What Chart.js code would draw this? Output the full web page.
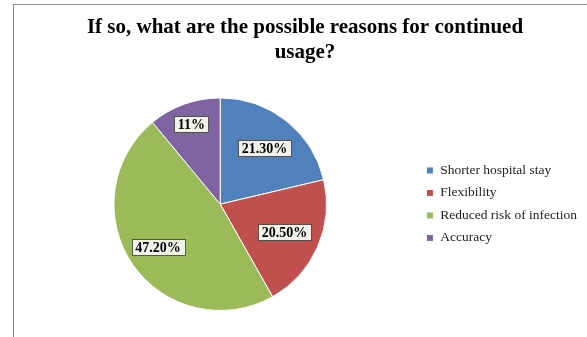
<!DOCTYPE html>
<html>
<head>
<meta charset="utf-8">
<script src="https://cdn.jsdelivr.net/npm/chart.js@4/dist/chart.umd.min.js"></script>
<style>
  html, body { margin: 0; padding: 0; background: #fff; overflow: hidden; }
  #frame { position: absolute; left: 13px; top: 4px; width: 700px; height: 400px;
           border-left: 1px solid #8a8a8a; border-top: 1px solid #8a8a8a; }
  #wrap { position: absolute; left: 0; top: 0; width: 587px; height: 337px; }
</style>
</head>
<body>
<div id="frame"></div>
<div id="wrap"><canvas id="c" width="587" height="337"></canvas></div>
<script>
const titleLines = ["If so, what are the possible reasons for continued", "usage?"];
const categories = ["Shorter hospital stay", "Flexibility", "Reduced risk of infection", "Accuracy"];
const values = [21.3, 20.5, 47.2, 11];
const valueLabels = ["21.30%", "20.50%", "47.20%", "11%"];
const colors = ["#4F81BD", "#C0504D", "#9BBB59", "#8064A2"];
const labelRadius = [0.67, 0.66, 0.71, 0.8];

const boxLabels = {
  id: 'boxLabels',
  afterDatasetsDraw(chart) {
    const ctx = chart.ctx;
    const meta = chart.getDatasetMeta(0);
    ctx.save();
    ctx.font = 'bold 14px "Liberation Serif", "Times New Roman", serif';
    ctx.textAlign = 'center';
    ctx.textBaseline = 'middle';
    meta.data.forEach((arc, i) => {
      const p = arc.getProps(['x', 'y', 'startAngle', 'endAngle', 'outerRadius'], true);
      const mid = (p.startAngle + p.endAngle) / 2;
      const r = p.outerRadius * labelRadius[i];
      const x = p.x + Math.cos(mid) * r;
      const y = p.y + Math.sin(mid) * r;
      const t = valueLabels[i];
      const w = ctx.measureText(t).width + 7;
      const h = 16;
      ctx.fillStyle = '#F2F1E8';
      ctx.fillRect(Math.round(x - w / 2) + 0.5, Math.round(y - h / 2) + 0.5, Math.round(w), h);
      ctx.strokeStyle = '#3a3a3a';
      ctx.lineWidth = 0.8;
      ctx.strokeRect(Math.round(x - w / 2) + 0.5, Math.round(y - h / 2) + 0.5, Math.round(w), h);
      ctx.fillStyle = '#000';
      ctx.fillText(t, x, y + 1);
    });
    ctx.restore();
  }
};

new Chart(document.getElementById('c'), {
  type: 'pie',
  data: {
    labels: categories,
    datasets: [{
      data: values,
      backgroundColor: colors,
      borderColor: '#ffffff',
      borderWidth: 1
    }]
  },
  options: {
    responsive: false,
    animation: false,
    events: [],
    layout: { padding: { left: 23, right: 0, top: 0, bottom: 26 } },
    plugins: {
      tooltip: { enabled: false },
      title: {
        display: true,
        text: titleLines,
        color: '#000',
        font: { family: '"Liberation Serif", "Times New Roman", serif', size: 21, weight: 'bold', lineHeight: 1.2 },
        padding: { top: 15, bottom: 32 }
      },
      legend: {
        position: 'right',
        align: 'center',
        fullSize: false,
        labels: {
          boxWidth: 7,
          boxHeight: 7,
          padding: 9,
          color: '#222',
          font: { family: '"Liberation Serif", "Times New Roman", serif', size: 13.5 }
        }
      }
    }
  },
  plugins: [boxLabels]
});
</script>
</body>
</html>
